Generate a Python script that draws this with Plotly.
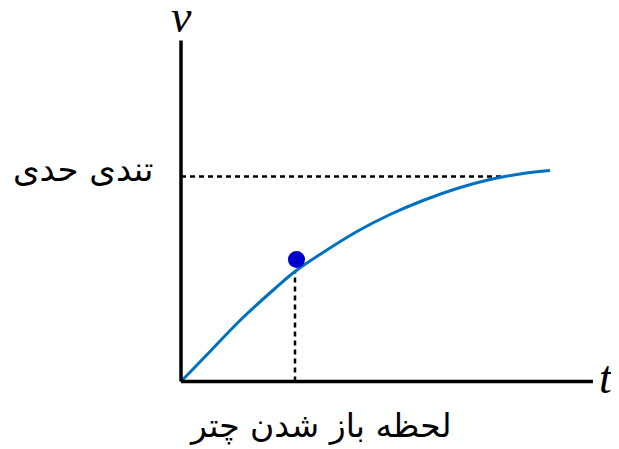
import plotly.graph_objects as go

# curve samples (t, v), in chart units (origin at axes corner)
t_curve = [0, 30, 61, 94, 114, 142, 176, 209, 242, 276, 309, 342, 369]
v_curve = [0, 31, 63, 93, 110, 129, 150, 167, 181, 193, 202, 208, 211]

terminal_v = 205          # dotted horizontal level (تندی حدی)
terminal_end_t = 322      # where the dotted horizontal stops
open_t = 114              # parachute opening moment
open_v = 110              # curve value at that moment
marker_t = 115.5
marker_v = 122            # marker position

x_axis_len = 412
y_axis_len = 341

fig = go.Figure()

fig.add_trace(go.Scatter(
    x=t_curve, y=v_curve, mode="lines",
    line=dict(color="#0070C0", width=3, shape="spline", smoothing=1.0),
    hoverinfo="skip", showlegend=False))

fig.add_trace(go.Scatter(
    x=[marker_t], y=[marker_v], mode="markers",
    marker=dict(color="#0000CC", size=17, line=dict(width=0)),
    hoverinfo="skip", showlegend=False))

shapes = [
    dict(type="line", x0=0, y0=0, x1=x_axis_len, y1=0, line=dict(color="black", width=3.5), layer="above"),
    dict(type="line", x0=0, y0=0, x1=0, y1=y_axis_len, line=dict(color="black", width=3.5), layer="above"),
    dict(type="line", x0=0, y0=terminal_v, x1=terminal_end_t, y1=terminal_v,
         line=dict(color="black", width=2.5, dash="5px,4px"), layer="below"),
    dict(type="line", x0=open_t, y0=0, x1=open_t, y1=open_v,
         line=dict(color="black", width=2.5, dash="5px,4px"), layer="below"),
]

annotations = [
    dict(x=0, y=y_axis_len + 24, text="<i>v</i>", showarrow=False,
         font=dict(family="Liberation Serif", size=46, color="black"),
         xanchor="center", yanchor="middle", borderpad=0),
    dict(x=x_axis_len + 13, y=4, text="<i>t</i>", showarrow=False,
         font=dict(family="Liberation Serif", size=46, color="black"), xanchor="center", yanchor="middle"),
    dict(x=-26, y=terminal_v + 8, text="تندی حدی", showarrow=False,
         font=dict(family="DejaVu Sans", size=34, color="black"), xanchor="right", yanchor="middle"),
    dict(x=139, y=-44, text="لحظه باز شدن چتر", showarrow=False,
         font=dict(family="DejaVu Sans", size=33, color="black"), xanchor="center", yanchor="middle"),
]

# the page body has an 8px margin, so the ranges are shifted to keep the origin at (181, 381.5)
fig.update_layout(
    width=619, height=449,
    margin=dict(l=0, r=0, t=0, b=0),
    paper_bgcolor="white", plot_bgcolor="white",
    xaxis=dict(range=[-173, 446], visible=False, fixedrange=True),
    yaxis=dict(range=[-75.5, 373.5], visible=False, fixedrange=True),
    shapes=shapes, annotations=annotations,
    showlegend=False,
)

fig.write_html("out.html", config={"displayModeBar": False})
